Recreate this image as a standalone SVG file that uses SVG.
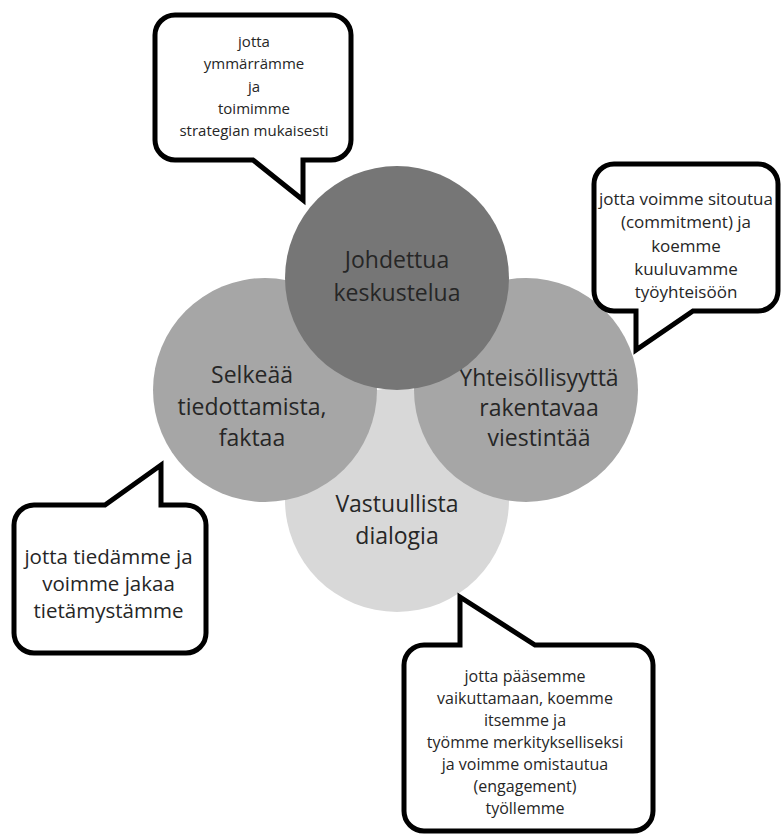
<svg xmlns="http://www.w3.org/2000/svg" width="784" height="838" viewBox="0 0 784 838">
<style>
.bub{fill:#ffffff;stroke:#000000;stroke-width:5;stroke-linejoin:miter;stroke-miterlimit:10}
.ct{font-family:"Open Sans","Noto Sans","Liberation Sans",sans-serif;font-size:23px;fill:#262626;text-anchor:middle}
.bt{font-family:"Open Sans","Noto Sans","Liberation Sans",sans-serif;fill:#262626;text-anchor:middle}
</style>
<rect width="784" height="838" fill="#ffffff"/>
<g id="circle-vastuullista">
<circle cx="397" cy="500" r="112" fill="#d8d8d8"/>
<text class="ct" x="397" y="512">Vastuullista</text>
<text class="ct" x="397" y="544">dialogia</text>
</g>
<g id="circle-selkeaa">
<circle cx="265" cy="390" r="112" fill="#a6a6a6"/>
<text class="ct" x="252" y="383">Selkeää</text>
<text class="ct" x="252" y="415">tiedottamista,</text>
<text class="ct" x="252" y="446">faktaa</text>
</g>
<g id="circle-yhteisollisyytta">
<circle cx="526" cy="390" r="112" fill="#a6a6a6"/>
<text class="ct" x="539" y="386">Yhteisöllisyyttä</text>
<text class="ct" x="539" y="416">rakentavaa</text>
<text class="ct" x="539" y="446">viestintää</text>
</g>
<g id="circle-johdettua">
<circle cx="397" cy="278" r="112" fill="#767676"/>
<text class="ct" x="397" y="268">Johdettua</text>
<text class="ct" x="397" y="301">keskustelua</text>
</g>
<g id="bubble-top">
<path class="bub" d="M175,15 H331 A20 20 0 0 1 351,35 V140 A20 20 0 0 1 331,160 H303 V200 L253,160 H175 A20 20 0 0 1 155,140 V35 A20 20 0 0 1 175,15 Z"/>
<g class="bt" font-size="15">
<text x="254" y="47">jotta</text>
<text x="254" y="69.3">ymmärrämme</text>
<text x="254" y="91.6">ja</text>
<text x="254" y="113.9">toimimme</text>
<text x="254" y="136.2">strategian mukaisesti</text>
</g>
</g>
<g id="bubble-right">
<path class="bub" d="M614,164 H758 A20 20 0 0 1 778,184 V291 A20 20 0 0 1 758,311 H693 L636,350 V311 H614 A20 20 0 0 1 594,291 V184 A20 20 0 0 1 614,164 Z"/>
<g class="bt" font-size="17">
<text x="686" y="205">jotta voimme sitoutua</text>
<text x="686" y="228">(commitment) ja</text>
<text x="686" y="251.5">koemme</text>
<text x="686" y="274.5">kuuluvamme</text>
<text x="686" y="297.5">työyhteisöön</text>
</g>
</g>
<g id="bubble-left">
<path class="bub" d="M34,505 H105 L161,465 V505 H186 A20 20 0 0 1 206,525 V633 A20 20 0 0 1 186,653 H34 A20 20 0 0 1 14,633 V525 A20 20 0 0 1 34,505 Z"/>
<g class="bt" font-size="20.5">
<text x="108.5" y="564">jotta tiedämme ja</text>
<text x="108.5" y="591">voimme jakaa</text>
<text x="108.5" y="617.5">tietämystämme</text>
</g>
</g>
<g id="bubble-bottom">
<path class="bub" d="M424,645 H460 V597 L535,645 H633 A20 20 0 0 1 653,665 V811 A20 20 0 0 1 633,831 H424 A20 20 0 0 1 404,811 V665 A20 20 0 0 1 424,645 Z"/>
<g class="bt" font-size="16">
<text x="525" y="681.5">jotta pääsemme</text>
<text x="525" y="703.5">vaikuttamaan, koemme</text>
<text x="525" y="725.5">itsemme ja</text>
<text x="525" y="748">työmme merkitykselliseksi</text>
<text x="525" y="770">ja voimme omistautua</text>
<text x="525" y="792">(engagement)</text>
<text x="525" y="814">työllemme</text>
</g>
</g>
<g id="connectors"></g>
</svg>
